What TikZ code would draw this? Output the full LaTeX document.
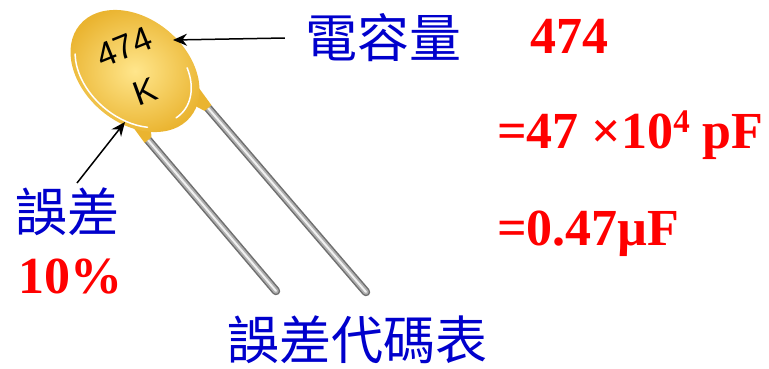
\documentclass[tikz,border=0pt]{standalone}
\usepackage{fontspec}
\setmainfont{Liberation Serif}
\newfontfamily\cjk{Noto Sans CJK TC}
\newfontfamily\capfont{Liberation Sans}
\usetikzlibrary{arrows.meta}
\definecolor{lblblue}{RGB}{0,0,204}
\definecolor{capedge}{RGB}{234,180,48}
\definecolor{caplight}{RGB}{255,230,140}
\definecolor{leadedge}{RGB}{110,110,110}
\definecolor{leadmid}{RGB}{175,175,175}
\definecolor{leadlight}{RGB}{240,240,240}

\begin{document}
\begin{tikzpicture}[x=1pt,y=-1pt]
	\tikzset{>={Stealth[length=14pt,width=12pt]}}
	\tikzset{cjklbl/.style={inner sep=0pt,text=lblblue,font=\cjk\fontsize{52}{52}\selectfont},
		redlbl/.style={inner sep=0pt,anchor=base west,text=red,font=\fontsize{52}{52}\selectfont\bfseries},
		marking/.style={inner sep=0pt,text height=0.72em,text depth=0pt,font=\capfont\fontsize{34}{34}\selectfont}}
	\useasboundingbox (0,0) rectangle (769,368);

	% the two wire leads
	\foreach \xa/\ya/\xb/\yb in {148/140/276/291, 208/108/366/292} {
		\draw[leadedge, line width=8.5pt, line cap=round] (\xa,\ya) -- (\xb,\yb);
		\draw[leadmid, line width=5.5pt, line cap=round] (\xa,\ya) -- (\xb,\yb);
		\draw[leadlight, line width=2pt, line cap=round] (\xa,\ya) -- (\xb,\yb);
	}
	\fill[capedge] (122,112) -- (150,112) -- (151.4,137.1) -- (144.6,142.9) -- cycle;
	\fill[capedge] (184,100) -- (196,84) -- (211.4,105.1) -- (204.6,110.9) -- cycle;

	% body
	\shade[inner color=caplight, outer color=capedge, rotate around={-40:(135,71)}] (135,71) ellipse [x radius=72, y radius=52];
	\begin{scope}[shift={(135,71)}, rotate=-40]
		\draw[white, line width=1.5pt, line cap=round] (148:67 and 48) arc[start angle=148, end angle=47, x radius=67, y radius=48];
		\draw[white, line width=1.5pt, line cap=round] (-53:63 and 45) arc[start angle=-53, end angle=12, x radius=63, y radius=45];
	\end{scope}
	\node[marking, rotate=22] (capcode) at (127,55) {474};
	\node[marking, rotate=20] (captol) at (148,99) {K};

	\node[cjklbl] (vallbl) at (383,38) {電容量};
	\node[cjklbl] (tollbl) at (68,212) {誤差};
	\node[cjklbl] (tablelbl) at (357,340) {誤差代碼表};

	\node[redlbl] (code) at (530,53) {474};
	\node[redlbl] (inpf) at (497,148) {=47 ×10\raisebox{16pt}{\fontsize{33}{33}\selectfont 4} pF};
	\node[redlbl] (inuf) at (497,245) {=0.47µF};
	\node[redlbl] (tolval) at (18,293) {10\%};

	\coordinate (valtip) at (173,40);
	\coordinate (toltail) at (77,183);
	\coordinate (toltip) at (125,122);
	\draw[->, line width=1.5pt] ([xshift=-20pt]vallbl.west) -- (valtip);
	\draw[->, line width=1.5pt] (toltail) -- (toltip);
\end{tikzpicture}
\end{document}
